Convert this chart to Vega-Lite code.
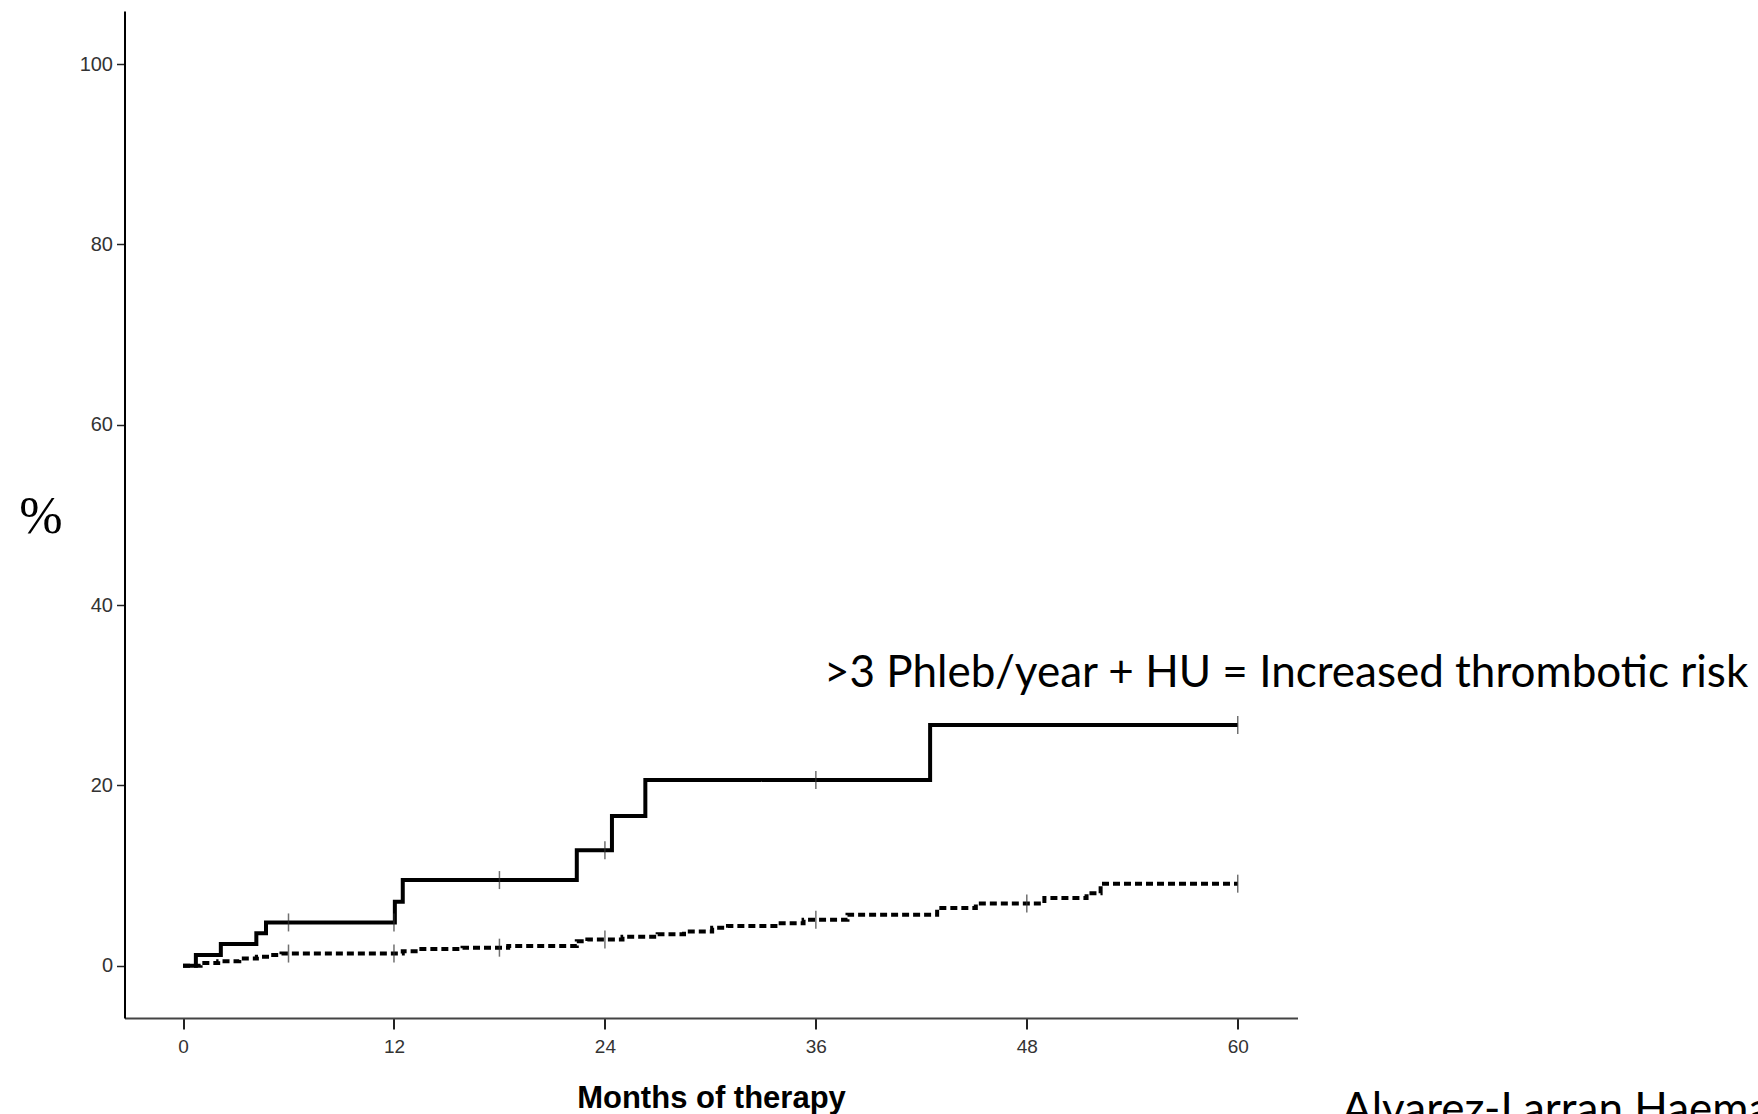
{
  "$schema": "https://vega.github.io/schema/vega-lite/v6.json",
  "autosize": {"type": "none"},
  "padding": {"left": 124.5, "top": 11, "right": 460.5, "bottom": 96},
  "width": 1173,
  "height": 1007,
  "background": "white",
  "config": {"view": {"stroke": null}},
  "datasets": {
    "curves": [
      {"series": "high", "month": 0, "pct": 0},
      {"series": "high", "month": 0.73, "pct": 1.2},
      {"series": "high", "month": 2.15, "pct": 2.4},
      {"series": "high", "month": 4.17, "pct": 3.6},
      {"series": "high", "month": 4.72, "pct": 4.8},
      {"series": "high", "month": 12.05, "pct": 7.1},
      {"series": "high", "month": 12.5, "pct": 9.5},
      {"series": "high", "month": 22.4, "pct": 12.8},
      {"series": "high", "month": 24.4, "pct": 16.6},
      {"series": "high", "month": 26.3, "pct": 20.6},
      {"series": "high", "month": 42.5, "pct": 26.7},
      {"series": "high", "month": 60, "pct": 26.7},
      {"series": "low", "month": 0, "pct": 0},
      {"series": "low", "month": 1.0, "pct": 0.3},
      {"series": "low", "month": 2.0, "pct": 0.5},
      {"series": "low", "month": 3.2, "pct": 0.8},
      {"series": "low", "month": 4.2, "pct": 1.0},
      {"series": "low", "month": 5.0, "pct": 1.2},
      {"series": "low", "month": 5.6, "pct": 1.35},
      {"series": "low", "month": 12.5, "pct": 1.6},
      {"series": "low", "month": 13.4, "pct": 1.85},
      {"series": "low", "month": 15.9, "pct": 2.0},
      {"series": "low", "month": 18.5, "pct": 2.2},
      {"series": "low", "month": 22.4, "pct": 2.7},
      {"series": "low", "month": 23.0, "pct": 2.9},
      {"series": "low", "month": 25.0, "pct": 3.2},
      {"series": "low", "month": 27.0, "pct": 3.5},
      {"series": "low", "month": 28.5, "pct": 3.8},
      {"series": "low", "month": 30.1, "pct": 4.2},
      {"series": "low", "month": 31.0, "pct": 4.4},
      {"series": "low", "month": 33.7, "pct": 4.7},
      {"series": "low", "month": 35.3, "pct": 5.1},
      {"series": "low", "month": 37.8, "pct": 5.65},
      {"series": "low", "month": 42.9, "pct": 6.4},
      {"series": "low", "month": 45.1, "pct": 6.9},
      {"series": "low", "month": 49.0, "pct": 7.5},
      {"series": "low", "month": 51.4, "pct": 8.05},
      {"series": "low", "month": 52.2, "pct": 9.1},
      {"series": "low", "month": 60, "pct": 9.1}
    ],
    "censored": [
      {"series": "high", "month": 6, "pct": 4.8},
      {"series": "high", "month": 12, "pct": 4.8},
      {"series": "high", "month": 18, "pct": 9.5},
      {"series": "high", "month": 24, "pct": 12.8},
      {"series": "high", "month": 36, "pct": 20.6},
      {"series": "high", "month": 60, "pct": 26.7},
      {"series": "low", "month": 6, "pct": 1.35},
      {"series": "low", "month": 12, "pct": 1.35},
      {"series": "low", "month": 18, "pct": 2.0},
      {"series": "low", "month": 24, "pct": 2.9},
      {"series": "low", "month": 36, "pct": 5.1},
      {"series": "low", "month": 48, "pct": 6.9},
      {"series": "low", "month": 60, "pct": 9.1}
    ],
    "notes": [
      {"label": ">3 Phleb/year + HU = Increased thrombotic risk", "month": 36.46, "pct": 32.4, "kind": "main"},
      {"label": "Alvarez-Larran Haematologica", "month": 65.93, "pct": -17.6, "kind": "source"}
    ]
  },
  "layer": [
    {
      "data": {"name": "curves"},
      "mark": {"type": "line", "interpolate": "step-after", "color": "black", "strokeWidth": 4},
      "encoding": {
        "x": {
          "field": "month", "type": "quantitative",
          "scale": {"domain": [-3.33, 63.4], "nice": false, "zero": false},
          "axis": {
            "values": [0, 12, 24, 36, 48, 60],
            "grid": false,
            "domainColor": "#444", "domainWidth": 2,
            "tickColor": "#222", "tickWidth": 2, "tickSize": 11,
            "labelFont": "Liberation Sans", "labelFontSize": 19, "labelColor": "#333",
            "labelPadding": 8,
            "title": "Months of therapy",
            "titleFont": "Liberation Sans", "titleFontSize": 31, "titleFontWeight": "bold",
            "titleColor": "black", "titleBaseline": "alphabetic", "titleY": 89
          }
        },
        "y": {
          "field": "pct", "type": "quantitative",
          "scale": {"domain": [-5.8, 105.9], "nice": false, "zero": false},
          "axis": {
            "values": [0, 20, 40, 60, 80, 100],
            "grid": false,
            "domainColor": "black", "domainWidth": 2,
            "tickColor": "#222", "tickWidth": 1.5, "tickSize": 8,
            "labelFont": "Liberation Sans", "labelFontSize": 20, "labelColor": "#333",
            "labelPadding": 4,
            "title": "%",
            "titleFont": "Liberation Serif", "titleFontSize": 52, "titleFontWeight": "normal",
            "titleColor": "black", "titleAngle": 0, "titleAlign": "center",
            "titleBaseline": "middle", "titleX": -84, "titleY": 505
          }
        },
        "detail": {"field": "series"},
        "strokeDash": {
          "field": "series", "type": "nominal",
          "scale": {"domain": ["high", "low"], "range": [[1, 0], [7, 4]]},
          "legend": null
        }
      }
    },
    {
      "data": {"name": "censored"},
      "mark": {"type": "tick", "orient": "vertical", "color": "#333", "thickness": 1.5, "size": 18},
      "encoding": {
        "x": {"field": "month", "type": "quantitative"},
        "y": {"field": "pct", "type": "quantitative"}
      }
    },
    {
      "data": {"name": "notes"},
      "transform": [{"filter": "datum.kind === 'main'"}],
      "mark": {"type": "text", "align": "left", "baseline": "middle", "font": "Lato", "fontSize": 44, "color": "black"},
      "encoding": {
        "x": {"field": "month", "type": "quantitative"},
        "y": {"field": "pct", "type": "quantitative"},
        "text": {"field": "label"}
      }
    },
    {
      "data": {"name": "notes"},
      "transform": [{"filter": "datum.kind === 'source'"}],
      "mark": {"type": "text", "align": "left", "baseline": "alphabetic", "font": "Lato", "fontSize": 44, "color": "black"},
      "encoding": {
        "x": {"field": "month", "type": "quantitative"},
        "y": {"field": "pct", "type": "quantitative"},
        "text": {"field": "label"}
      }
    }
  ]
}
